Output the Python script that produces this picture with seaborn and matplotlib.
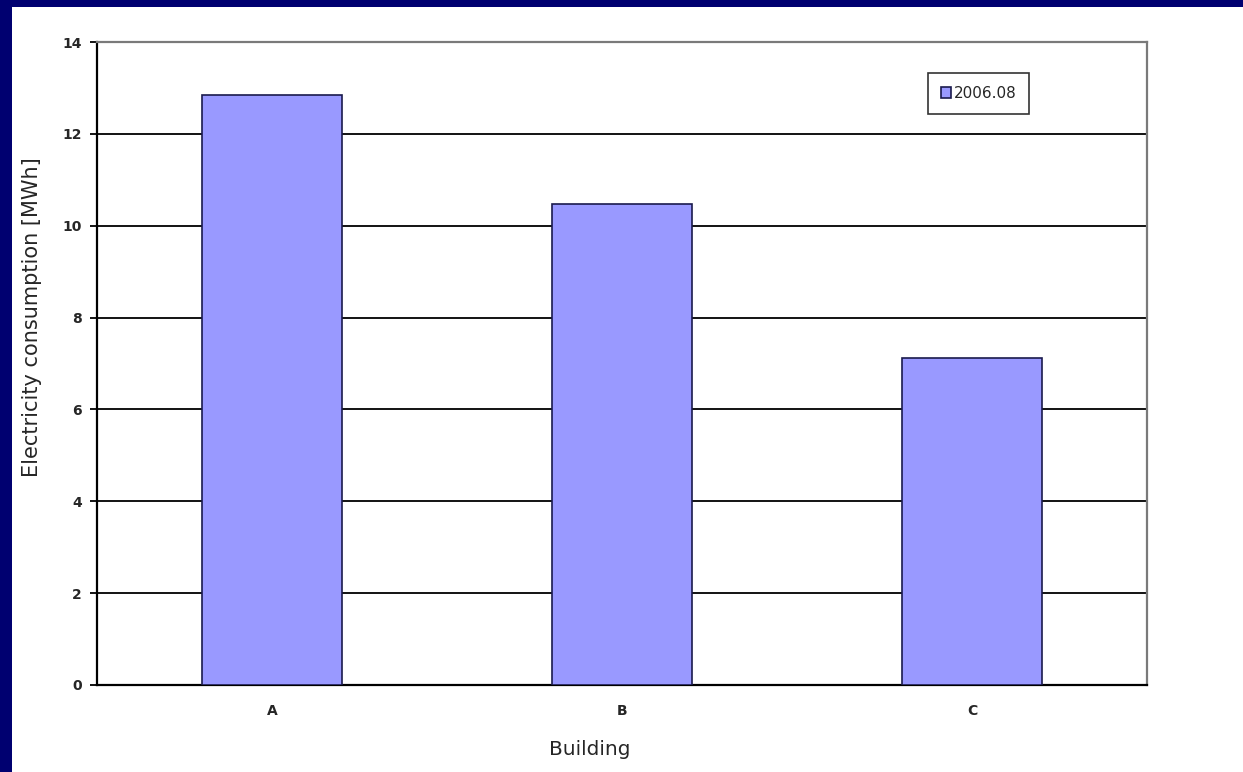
import matplotlib
matplotlib.use("Agg")
import matplotlib.pyplot as plt
from matplotlib.patches import Rectangle
import seaborn as sns
import pandas as pd

# Data
buildings = ["A", "B", "C"]
consumption_mwh = [12.85, 10.48, 7.13]
series_name = "2006.08"
y_ticks = [0, 2, 4, 6, 8, 10, 12, 14]

sns.set_theme(style="white")
plt.rcParams["font.family"] = ["DejaVu Sans"]

df = pd.DataFrame({"Building": buildings, "MWh": consumption_mwh, "Period": series_name})

fig = plt.figure(figsize=(12.43, 7.72), dpi=100, facecolor="white")

# Navy frame strips along the top and left edges of the slide
fig.patches.append(Rectangle((0, 1 - 7 / 772), 1, 7 / 772, transform=fig.transFigure,
                             facecolor="#000070", edgecolor="none", zorder=0))
fig.patches.append(Rectangle((0, 0), 12 / 1243, 1, transform=fig.transFigure,
                             facecolor="#000070", edgecolor="none", zorder=0))

ax = fig.add_axes([97 / 1243, 87 / 772, 1050 / 1243, 643 / 772])
ax.set_facecolor("white")

sns.barplot(data=df, x="Building", y="MWh", hue="Period", palette=["#9999FF"],
            width=0.4, edgecolor="#1a1a4d", linewidth=1.2, saturation=1,
            ax=ax, zorder=3)

ax.set_xlim(-0.5, 2.5)
ax.set_ylim(0, 14)
ax.set_yticks(y_ticks)
ax.set_yticklabels([str(t) for t in y_ticks], fontsize=10, fontweight="bold")
ax.yaxis.grid(True, color="black", linewidth=1.3, zorder=0)
ax.set_axisbelow(True)

# Category labels centred, tick marks at category boundaries
ax.set_xticks([0, 1, 2])
ax.set_xticklabels(buildings, fontsize=10, fontweight="bold")
ax.tick_params(axis="x", which="major", length=0, pad=14)
ax.set_xticks([-0.5, 0.5, 1.5, 2.5], minor=True)
ax.tick_params(axis="x", which="minor", length=5, width=1.3, color="black", direction="out")
ax.tick_params(axis="y", which="major", length=5, width=1.3, color="black",
               direction="out", left=True, pad=6)

for side in ["left", "bottom"]:
    ax.spines[side].set_color("black")
    ax.spines[side].set_linewidth(1.6)
for side in ["top", "right"]:
    ax.spines[side].set_visible(True)
    ax.spines[side].set_color("#7a7a7a")
    ax.spines[side].set_linewidth(1.6)

ax.set_xlabel("Building", fontsize=14.5)
ax.xaxis.set_label_coords(0.4695, -0.0855)
ax.set_ylabel("Electricity consumption [MWh]", fontsize=15)
ax.yaxis.set_label_coords(-0.052, 0.572)

leg = ax.legend(loc="upper left", bbox_to_anchor=(0.791, 0.952), fontsize=11,
                frameon=True, fancybox=False, handlelength=0.7, handleheight=0.7,
                handletextpad=0.15, borderpad=0.85, borderaxespad=0, title=None)
leg.get_frame().set_edgecolor("black")
leg.get_frame().set_linewidth(1.2)

fig.savefig("out.png", dpi=100, facecolor="white")
